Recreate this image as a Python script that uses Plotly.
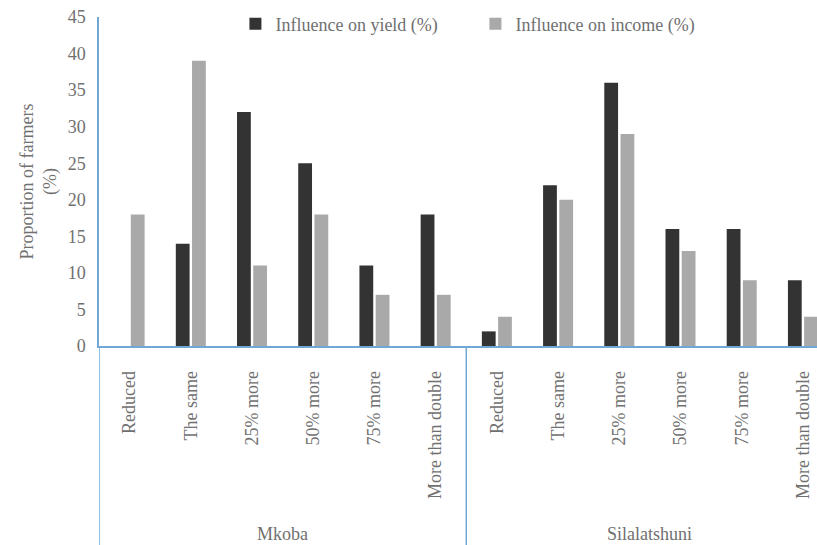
import plotly.graph_objects as go

group_names = ["Mkoba", "Silalatshuni"]
categories = ["Reduced", "The same", "25% more", "50% more", "75% more", "More than double"] * 2
yield_vals = [0, 14, 32, 25, 11, 18, 2, 22, 36, 16, 16, 9]
income_vals = [18, 39, 11, 18, 7, 7, 4, 20, 29, 13, 9, 4]
y_ticks = [0, 5, 10, 15, 20, 25, 30, 35, 40, 45]

x_pos = list(range(len(categories)))
n_per_group = len(categories) // len(group_names)

font_family = "'Liberation Serif', 'Times New Roman', serif"
text_col = "#707070"
axis_col = "#6fa8d6"

fig = go.Figure()
fig.add_trace(go.Bar(x=x_pos, y=yield_vals, name="Influence on yield (%)",
                     marker=dict(color="#333333", line=dict(width=0))))
fig.add_trace(go.Bar(x=x_pos, y=income_vals, name="Influence on income (%)",
                     marker=dict(color="#a9a9a9", line=dict(width=0))))

# group labels and dividers below the category labels
for gi, name in enumerate(group_names):
    center = gi * n_per_group + (n_per_group - 1) / 2
    fig.add_annotation(x=center, y=-0.57, xref="x", yref="paper", text=name,
                       showarrow=False, font=dict(size=18, color=text_col, family=font_family),
                       xanchor="center", yanchor="middle")
for b in range(len(group_names) + 1):
    edge = b * n_per_group - 0.5
    fig.add_shape(type="line", xref="x", yref="paper", x0=edge, x1=edge, y0=0, y1=-0.62,
                  line=dict(color=axis_col, width=1.5))

fig.update_layout(
    width=817, height=545,
    margin=dict(l=99, r=0, t=17, b=199),
    plot_bgcolor="white", paper_bgcolor="white",
    barmode="group", bargap=0.47, bargroupgap=0.15,
    font=dict(family=font_family, size=18, color=text_col),
    legend=dict(orientation="h", x=0.19, xanchor="left", y=1.035, yanchor="top",
                font=dict(size=18, color=text_col), bgcolor="rgba(0,0,0,0)",
                itemwidth=30, entrywidth=195, tracegroupgap=0),
    showlegend=True,
)
fig.update_xaxes(
    range=[-0.5, 11.23], tickmode="array", tickvals=x_pos, ticktext=categories,
    tickangle=-90, showline=True, linecolor=axis_col, linewidth=1.5,
    showgrid=False, zeroline=False,
    ticks="", ticklabelstandoff=16, tickfont=dict(size=18, color=text_col),
)
fig.update_yaxes(
    range=[0, 45], tickvals=y_ticks, showgrid=False, zeroline=False,
    showline=True, linecolor=axis_col, linewidth=1.5, ticks="",
    ticklabelstandoff=8,
    tickfont=dict(size=18, color=text_col),
    title=dict(text="Proportion of farmers<br>(%)", font=dict(size=18, color=text_col), standoff=6),
)
fig.write_html("out.html")
